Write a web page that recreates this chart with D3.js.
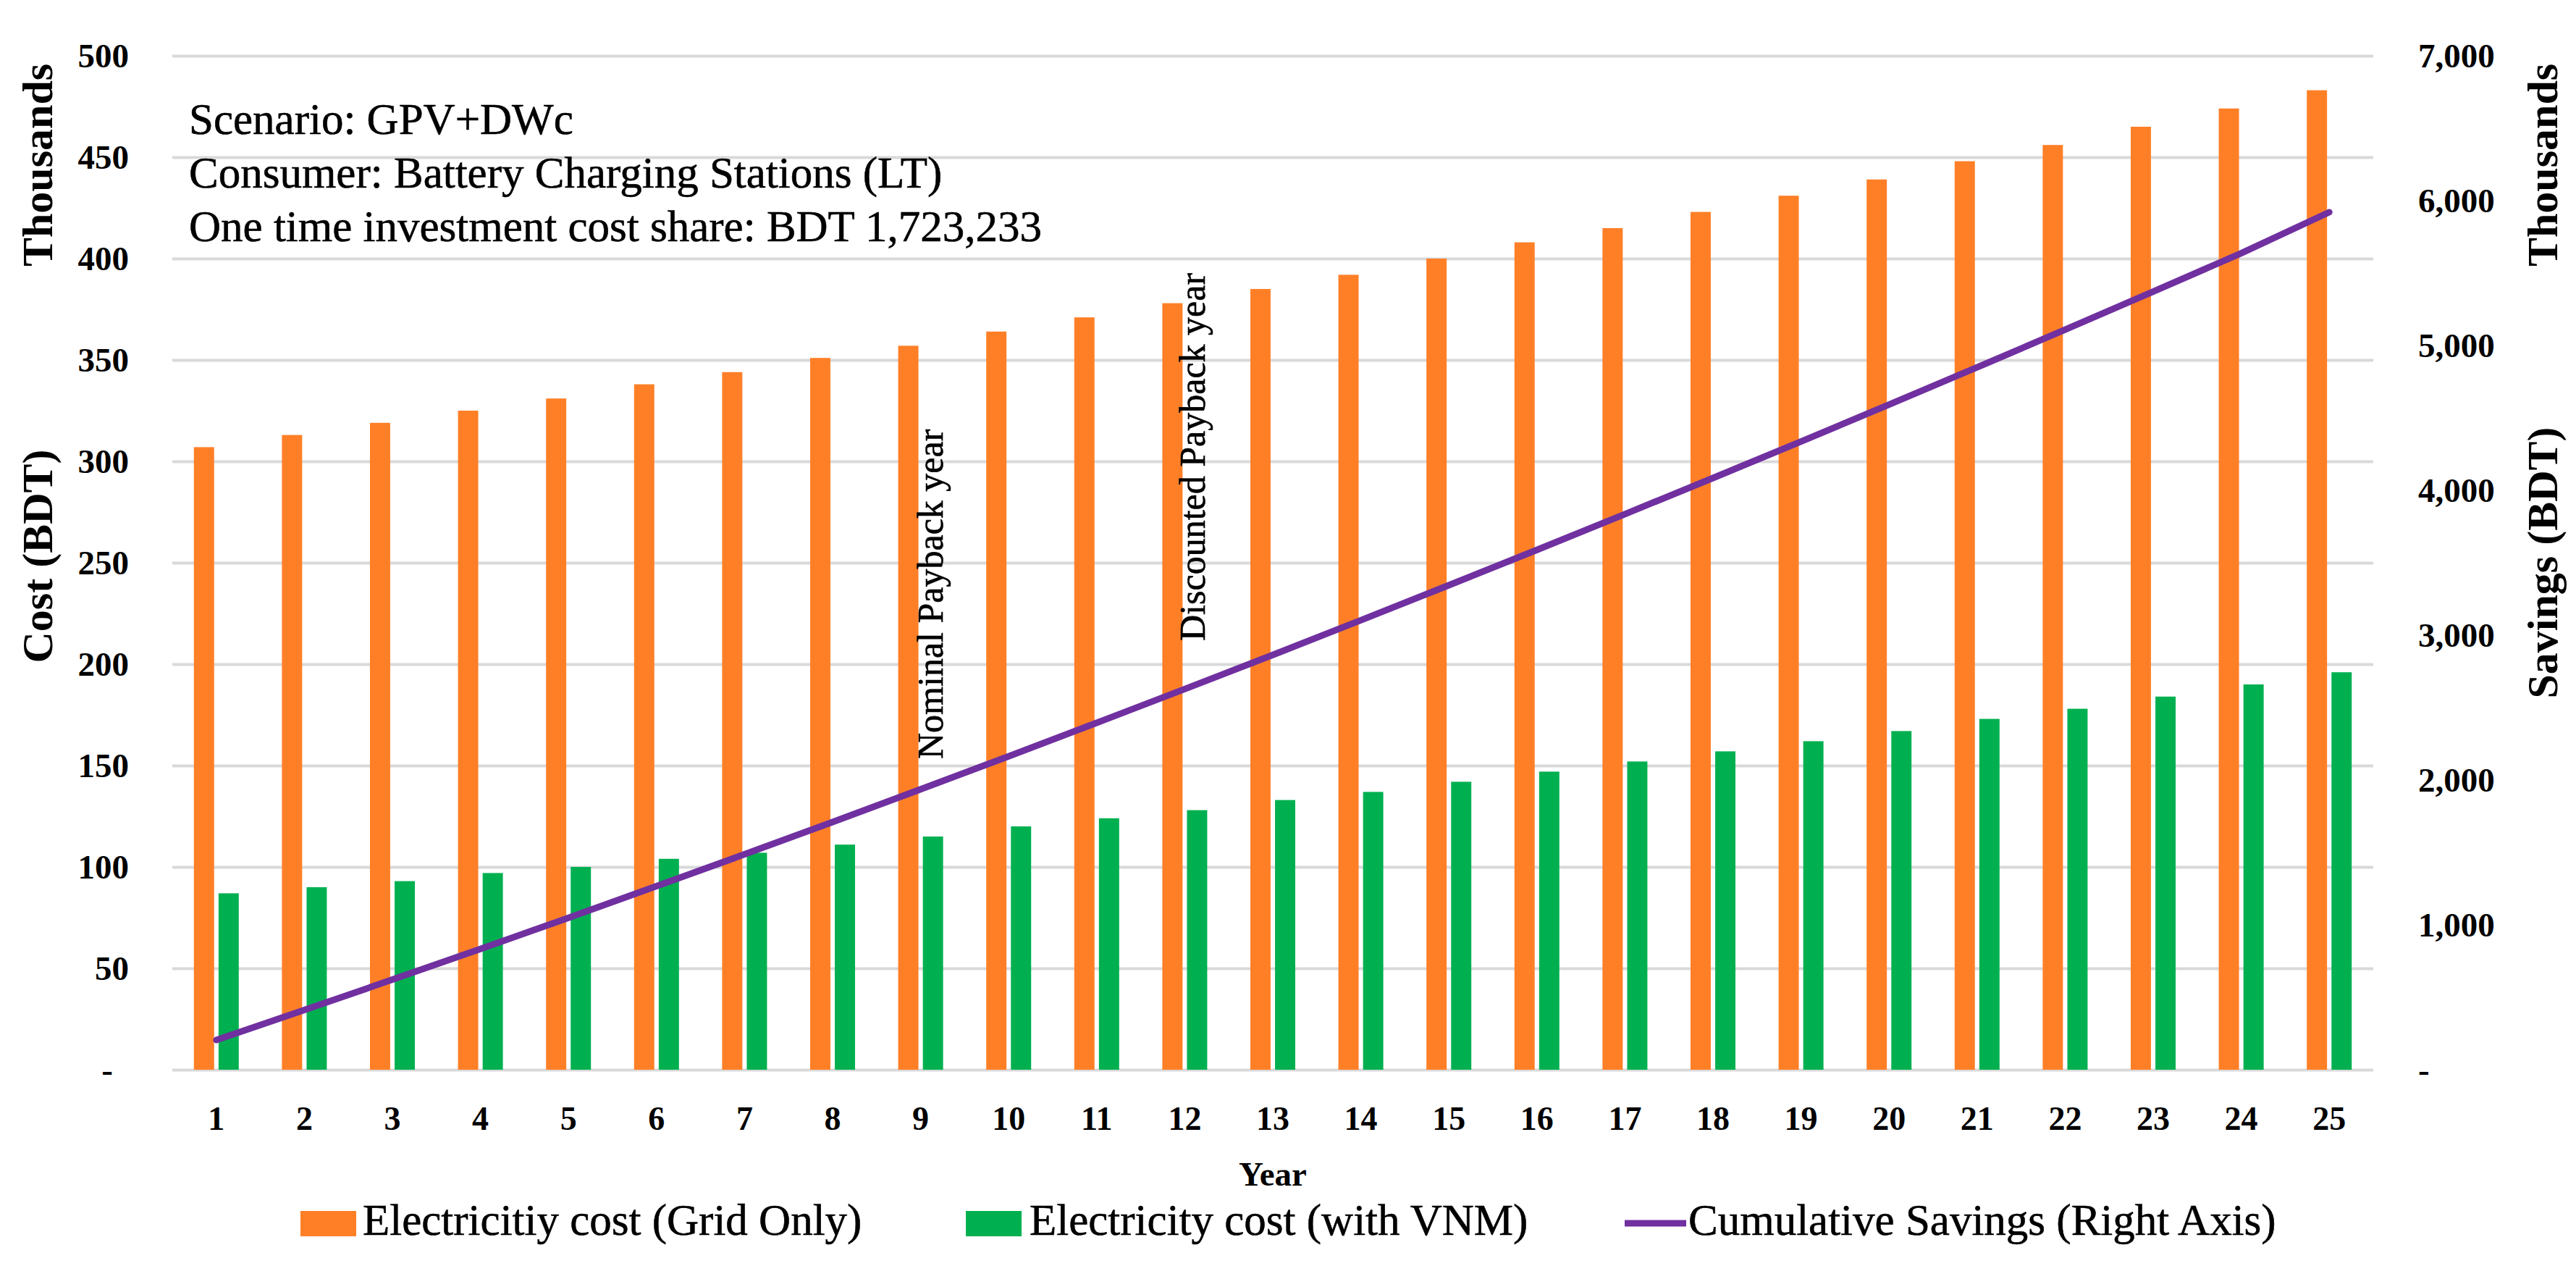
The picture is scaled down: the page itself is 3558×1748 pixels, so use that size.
<!DOCTYPE html>
<html>
<head>
<meta charset="utf-8">
<script src="https://cdn.jsdelivr.net/npm/d3@7"></script>
<style>
  body { margin: 0; background: #fff; }
  text { font-family: "Liberation Serif", "Times New Roman", serif; fill: #000; }
  .thin { stroke: #000; stroke-width: 0.6; }
</style>
</head>
<body>
<div id="chart"></div>
<script>
// data (BDT, thousands)
var years = ["1","2","3","4","5","6","7","8","9","10","11","12","13","14","15","16","17","18","19","20","21","22","23","24","25"];
var gridOnly = [307,313,319,325,331,338,344,351,357,364,371,378,385,392,400,408,415,423,431,439,448,456,465,474,483];
var withVNM = [87,90,93,97,100,104,107,111,115,120,124,128,133,137,142,147,152,157,162,167,173,178,184,190,196];
var cumSavings = [205,412,622,834,1049,1267,1487,1710,1936,2164,2395,2628,2864,3103,3345,3589,3836,4085,4337,4592,4849,5109,5372,5637,5920];
var leftTicks = [0,50,100,150,200,250,300,350,400,450,500];
var rightTicks = [0,1000,2000,3000,4000,5000,6000,7000];
var infoLines = ["Scenario: GPV+DWc", "Consumer: Battery Charging Stations (LT)", "One time investment cost share: BDT 1,723,233"];
var paybackYears = ["9", "12"];
var paybackLabels = ["Nominal Payback year", "Discounted Payback year"];
var seriesNames = ["Electricitiy cost (Grid Only)", "Electricity cost (with VNM)", "Cumulative Savings (Right Axis)"];

var W = 3558, H = 1748;
var plot = {left: 238, right: 3278, top: 77, bottom: 1477};
var colors = {grid: "#FF7F27", vnm: "#00B050", line: "#7030A0"};

var svg = d3.select("#chart").append("svg")
    .attr("width", W)
    .attr("height", H);

svg.append("rect").attr("width", W).attr("height", H).attr("fill", "#fff");

var x0 = d3.scaleBand()
    .domain(years)
    .range([plot.left, plot.right])
    .paddingInner(0.49)
    .paddingOuter(0.245);

var x1 = d3.scaleBand()
    .domain(["grid", "vnm"])
    .range([0, x0.bandwidth()])
    .paddingInner(0.18);

var yL = d3.scaleLinear().domain([0, 500]).range([plot.bottom, plot.top]);
var yR = d3.scaleLinear().domain([0, 7000]).range([plot.bottom, plot.top]);

var fmt = function(d) { return d === 0 ? "-" : d3.format(",")(d); };

// left axis + gridlines
var gLeft = svg.append("g")
    .attr("transform", "translate(" + plot.left + ",0)")
    .call(d3.axisLeft(yL).tickValues(leftTicks).tickSize(-(plot.right - plot.left)).tickPadding(60).tickFormat(fmt));
gLeft.select(".domain").remove();
gLeft.selectAll(".tick line").attr("stroke", "#d9d9d9").attr("stroke-width", 4);
gLeft.selectAll(".tick text")
    .attr("font-size", 47).attr("font-weight", "bold")
    .attr("font-family", "Liberation Serif")
    .attr("x", function(d) { return d === 0 ? -82 : -60; });

// right axis
var gRight = svg.append("g")
    .attr("transform", "translate(" + plot.right + ",0)")
    .call(d3.axisRight(yR).tickValues(rightTicks).tickSize(0).tickPadding(62).tickFormat(fmt));
gRight.select(".domain").remove();
gRight.selectAll(".tick text")
    .attr("font-size", 47).attr("font-weight", "bold")
    .attr("font-family", "Liberation Serif");

// bottom axis
var gBottom = svg.append("g")
    .attr("transform", "translate(0," + plot.bottom + ")")
    .call(d3.axisBottom(x0).tickSize(0).tickPadding(50));
gBottom.select(".domain").remove();
gBottom.selectAll(".tick text")
    .attr("font-size", 46).attr("font-weight", "bold")
    .attr("font-family", "Liberation Serif");

// bars
var rows = years.map(function(y, i) {
    return {year: y, grid: gridOnly[i], vnm: withVNM[i], sav: cumSavings[i]};
});

var groups = svg.append("g").selectAll(".yr")
    .data(rows)
    .enter().append("g")
    .attr("class", "yr")
    .attr("transform", function(d) { return "translate(" + x0(d.year) + ",0)"; });

groups.selectAll("rect")
    .data(function(d) { return [{key: "grid", v: d.grid}, {key: "vnm", v: d.vnm}]; })
    .enter().append("rect")
    .attr("x", function(d) { return x1(d.key); })
    .attr("width", x1.bandwidth())
    .attr("y", function(d) { return yL(d.v); })
    .attr("height", function(d) { return yL(0) - yL(d.v); })
    .attr("fill", function(d) { return colors[d.key]; });

// cumulative savings line
var line = d3.line()
    .x(function(d) { return x0(d.year) + x0.bandwidth() / 2; })
    .y(function(d) { return yR(d.sav); });

svg.append("path")
    .datum(rows)
    .attr("d", line)
    .attr("fill", "none")
    .attr("stroke", colors.line)
    .attr("stroke-width", 9)
    .attr("stroke-linecap", "round");

// payback annotations (anchored at their bottom end)
var paybackBottom = [1048, 885];
var paybackDx = [30, 28];
paybackYears.forEach(function(y, i) {
    svg.append("text")
        .attr("class", "thin")
        .attr("transform", "translate(" + (x0(y) + x0.bandwidth() / 2 + paybackDx[i]) + "," + paybackBottom[i] + ") rotate(-90)")
        .attr("text-anchor", "start")
        .attr("font-size", 50)
        .text(paybackLabels[i]);
});

// scenario info
svg.selectAll(".info")
    .data(infoLines)
    .enter().append("text")
    .attr("class", "info thin")
    .attr("x", 261)
    .attr("y", function(d, i) { return 185 + i * 74; })
    .attr("font-size", 61)
    .text(function(d) { return d; });

// axis titles
function vTitle(txt, xx, yy) {
    svg.append("text")
        .attr("transform", "translate(" + xx + "," + yy + ") rotate(-90)")
        .attr("text-anchor", "middle")
        .attr("font-size", 60)
        .attr("font-weight", "bold")
        .text(txt);
}
vTitle("Thousands", 72, 228);
vTitle("Cost (BDT)", 72, 768);
vTitle("Thousands", 3532, 228);
vTitle("Savings (BDT)", 3532, 777);

svg.append("text")
    .attr("x", (plot.left + plot.right) / 2)
    .attr("y", 1637)
    .attr("text-anchor", "middle")
    .attr("font-size", 47)
    .attr("font-weight", "bold")
    .text("Year");

// legend
var legend = svg.append("g");
legend.append("rect").attr("x", 415).attr("y", 1672).attr("width", 77).attr("height", 35).attr("fill", colors.grid);
legend.append("text").attr("class", "thin").attr("x", 501).attr("y", 1705).attr("font-size", 61).text(seriesNames[0]);
legend.append("rect").attr("x", 1334).attr("y", 1672).attr("width", 77).attr("height", 35).attr("fill", colors.vnm);
legend.append("text").attr("class", "thin").attr("x", 1422).attr("y", 1705).attr("font-size", 61).text(seriesNames[1]);
legend.append("line").attr("x1", 2244).attr("x2", 2329).attr("y1", 1689).attr("y2", 1689)
    .attr("stroke", colors.line).attr("stroke-width", 9);
legend.append("text").attr("class", "thin").attr("x", 2332).attr("y", 1705).attr("font-size", 61).text(seriesNames[2]);
</script>
</body>
</html>
